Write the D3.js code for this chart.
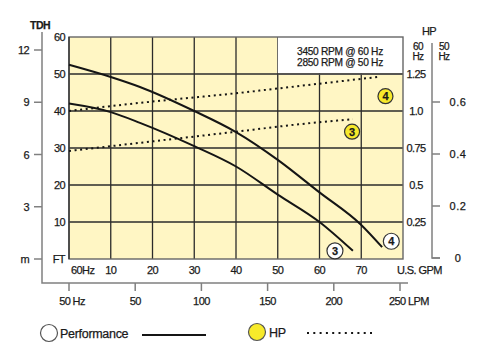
<!DOCTYPE html>
<html><head><meta charset="utf-8">
<script src="https://cdn.jsdelivr.net/npm/d3@7"></script>
<style>
html,body{margin:0;padding:0;background:#fff;}
svg text{font-family:"Liberation Sans",Arial,Helvetica,sans-serif;fill:#1a1a1a;stroke:#1a1a1a;stroke-width:0.25px;letter-spacing:-0.6px;}
</style></head>
<body><svg id="c" width="480" height="355"></svg>
<script>
// ---- data ----
const gpmTicks = [10,20,30,40,50,60,70];
const ftTicks = [10,20,30,40,50,60];
const mTicks = [3,6,9,12];
const lpmTicks = [50,100,150,200,250];
const hp60Ticks = [0.25,0.5,0.75,1.0,1.25];
const hp50Ticks = [0,0.2,0.4,0.6];
const hp60Labels = ["0.25","0.5","0.75","1.0","1.25"];
const hp50Labels = ["0","0.2","0.4","0.6"];

const perf3Gpm = [0,10,17,30,40,50,60,68];
const perf3Ft  = [42,39.7,36.8,30.5,25,17.4,10,2.2];
const perf4Gpm = [0,10,17,30,40,50,60,70,75];
const perf4Ft  = [52.5,49.2,46.5,40,34.3,26.8,18,9.2,3.2];
const hp3Gpm = [0,17,40,55,68];
const hp3Hp  = [0.73,0.785,0.86,0.91,0.945];
const hp4Gpm = [0,17,40,57,74];
const hp4Hp  = [1.0,1.055,1.12,1.175,1.23];
const headerLines = ["3450 RPM @ 60 Hz","2850 RPM @ 50 Hz"];

// ---- scales ----
const svg = d3.select("#c");
const x = d3.scaleLinear([0,80],[69,403]);
const y = d3.scaleLinear([0,60],[259,37]);
const yHP60 = d3.scaleLinear([0,1.5],[259,37]);
const yHP50 = d3.scaleLinear([0,0.6],[258,102]);
const yM = d3.scaleLinear([0,12],[259,50]);
const xL = d3.scaleLinear([0,250],[69,400]);

// background
svg.append("rect").attr("x",x(0)).attr("y",y(60)).attr("width",x(80)-x(0)).attr("height",y(0)-y(60)).attr("fill","#fff6c4");
// grid
const g = svg.append("g").attr("stroke","#2b2b2b").attr("stroke-width",1.3);
gpmTicks.forEach(t=>g.append("line").attr("x1",x(t)).attr("x2",x(t)).attr("y1",y(0)).attr("y2",y(60)));
ftTicks.filter(t=>t<60).forEach(t=>g.append("line").attr("x1",x(0)).attr("x2",x(80)).attr("y1",y(t)).attr("y2",y(t)));
// header box
svg.append("rect").attr("x",x(50)).attr("y",y(60)).attr("width",x(80)-x(50)).attr("height",y(50)-y(60)-1).attr("fill","#fff");
svg.append("line").attr("x1",x(50)).attr("x2",x(80)).attr("y1",y(50)).attr("y2",y(50)).attr("stroke","#555").attr("stroke-width",1.3);
// frame
svg.append("rect").attr("x",x(0)).attr("y",y(60)).attr("width",x(80)-x(0)).attr("height",y(0)-y(60)).attr("fill","none").attr("stroke","#666").attr("stroke-width",1.4);
svg.append("line").attr("x1",x(0)).attr("x2",x(0)).attr("y1",y(0)).attr("y2",y(60)).attr("stroke","#333").attr("stroke-width",1.4);

headerLines.forEach((t,i)=>svg.append("text").attr("x",340).attr("y",55+i*11).attr("text-anchor","middle").attr("font-size",10.2).style("letter-spacing","-0.3px").text(t));

// lines
const line = d3.line().curve(d3.curveMonotoneX);
const drawPerf=(gx,gy)=>svg.append("path").attr("d",line(gx.map((v,i)=>[x(v),y(gy[i])]))).attr("fill","none").attr("stroke","#151515").attr("stroke-width",2);
drawPerf(perf3Gpm,perf3Ft); drawPerf(perf4Gpm,perf4Ft);
const drawHp=(gx,gy)=>svg.append("path").attr("d",line(gx.map((v,i)=>[x(v),yHP60(gy[i])]))).attr("fill","none").attr("stroke","#151515").attr("stroke-width",2).attr("stroke-dasharray","2,3.6");
drawHp(hp3Gpm,hp3Hp); drawHp(hp4Gpm,hp4Hp);

// markers
function marker(cx,cy,label,fill,r){
  svg.append("circle").attr("cx",cx).attr("cy",cy).attr("r",r).attr("fill",fill).attr("stroke","#333").attr("stroke-width",1.2);
  if(label) svg.append("text").attr("x",cx).attr("y",cy+4).attr("text-anchor","middle").attr("font-size",11).attr("font-weight","bold").style("letter-spacing","0").text(label);
}
marker(x(75.8),yHP60(1.1),"4","#f7e92a",7.5);
marker(x(67.8),yHP60(0.86),"3","#f7e92a",7.5);
marker(x(63.7),y(2.2),"3","#fff",8);
marker(x(77.2),y(4.8),"4","#fff",8);

// left FT labels
ftTicks.forEach(t=>svg.append("text").attr("x",65).attr("y",y(t)+4).attr("text-anchor","end").attr("font-size",11).text(t));
svg.append("text").attr("x",65).attr("y",y(0)+4).attr("text-anchor","end").attr("font-size",11).text("FT");
// GPM labels
svg.append("text").attr("x",71).attr("y",274).attr("font-size",11).text("60Hz");
gpmTicks.forEach(t=>svg.append("text").attr("x",x(t)).attr("y",274).attr("text-anchor","middle").attr("font-size",11).text(t));
svg.append("text").attr("x",397).attr("y",274).attr("font-size",11).text("U.S. GPM");

// m axis
const ax = svg.append("g").attr("stroke","#808080").attr("stroke-width",1.5).attr("fill","none");
ax.append("path").attr("d",`M42,32V283H408`);
mTicks.concat([0]).forEach(t=>ax.append("line").attr("x1",34).attr("x2",42).attr("y1",yM(t)).attr("y2",yM(t)));
mTicks.forEach(t=>svg.append("text").attr("x",29).attr("y",yM(t)+4).attr("text-anchor","end").attr("font-size",11).text(t));
svg.append("text").attr("x",29).attr("y",yM(0)+4).attr("text-anchor","end").attr("font-size",11).text("m");
svg.append("text").attr("x",40).attr("y",29).attr("text-anchor","middle").attr("font-size",10.5).attr("font-weight","bold").text("TDH");
// LPM axis
[0].concat(lpmTicks).forEach(t=>ax.append("line").attr("x1",xL(t)).attr("x2",xL(t)).attr("y1",283).attr("y2",291));
svg.append("text").attr("x",72).attr("y",305).attr("text-anchor","middle").attr("font-size",11).text("50 Hz");
lpmTicks.slice(0,-1).forEach(t=>svg.append("text").attr("x",xL(t)).attr("y",305).attr("text-anchor","middle").attr("font-size",11).text(t));
svg.append("text").attr("x",389).attr("y",305).attr("font-size",11).text("250 LPM");

// HP 60 labels
hp60Ticks.forEach((t,i)=>svg.append("text").attr("x",416).attr("y",yHP60(t)+4).attr("text-anchor","middle").attr("font-size",11).text(hp60Labels[i]));
// HP 50 axis
ax.append("path").attr("d",`M432,43V258H440`);
hp50Ticks.forEach(t=>ax.append("line").attr("x1",432).attr("x2",440).attr("y1",yHP50(t)).attr("y2",yHP50(t)));
hp50Ticks.forEach((t,i)=>svg.append("text").attr("x",458).attr("y",yHP50(t)+4).attr("text-anchor","middle").attr("font-size",11).style("letter-spacing","0.5px").text(hp50Labels[i]));
svg.append("text").attr("x",429).attr("y",35).attr("text-anchor","middle").attr("font-size",11).text("HP");
[["60",418,50],["Hz",418,60],["50",444,50],["Hz",444,60]].forEach(d=>svg.append("text").attr("x",d[1]).attr("y",d[2]).attr("text-anchor","middle").attr("font-size",10).text(d[0]));

// legend
svg.append("circle").attr("cx",49).attr("cy",333).attr("r",8.5).attr("fill","#fff").attr("stroke","#555").attr("stroke-width",1.2);
svg.append("text").attr("x",60).attr("y",338).attr("font-size",12.5).style("letter-spacing","-0.3px").text("Performance");
svg.append("line").attr("x1",142).attr("x2",206).attr("y1",335).attr("y2",335).attr("stroke","#151515").attr("stroke-width",2);
svg.append("circle").attr("cx",257).attr("cy",332).attr("r",8.5).attr("fill","#f7ea2a").attr("stroke","#555").attr("stroke-width",1.2);
svg.append("text").attr("x",269).attr("y",337).attr("font-size",12.5).style("letter-spacing","-0.3px").text("HP");
svg.append("line").attr("x1",307).attr("x2",372).attr("y1",333).attr("y2",333).attr("stroke","#151515").attr("stroke-width",2).attr("stroke-dasharray","2,4.3");
</script></body></html>
